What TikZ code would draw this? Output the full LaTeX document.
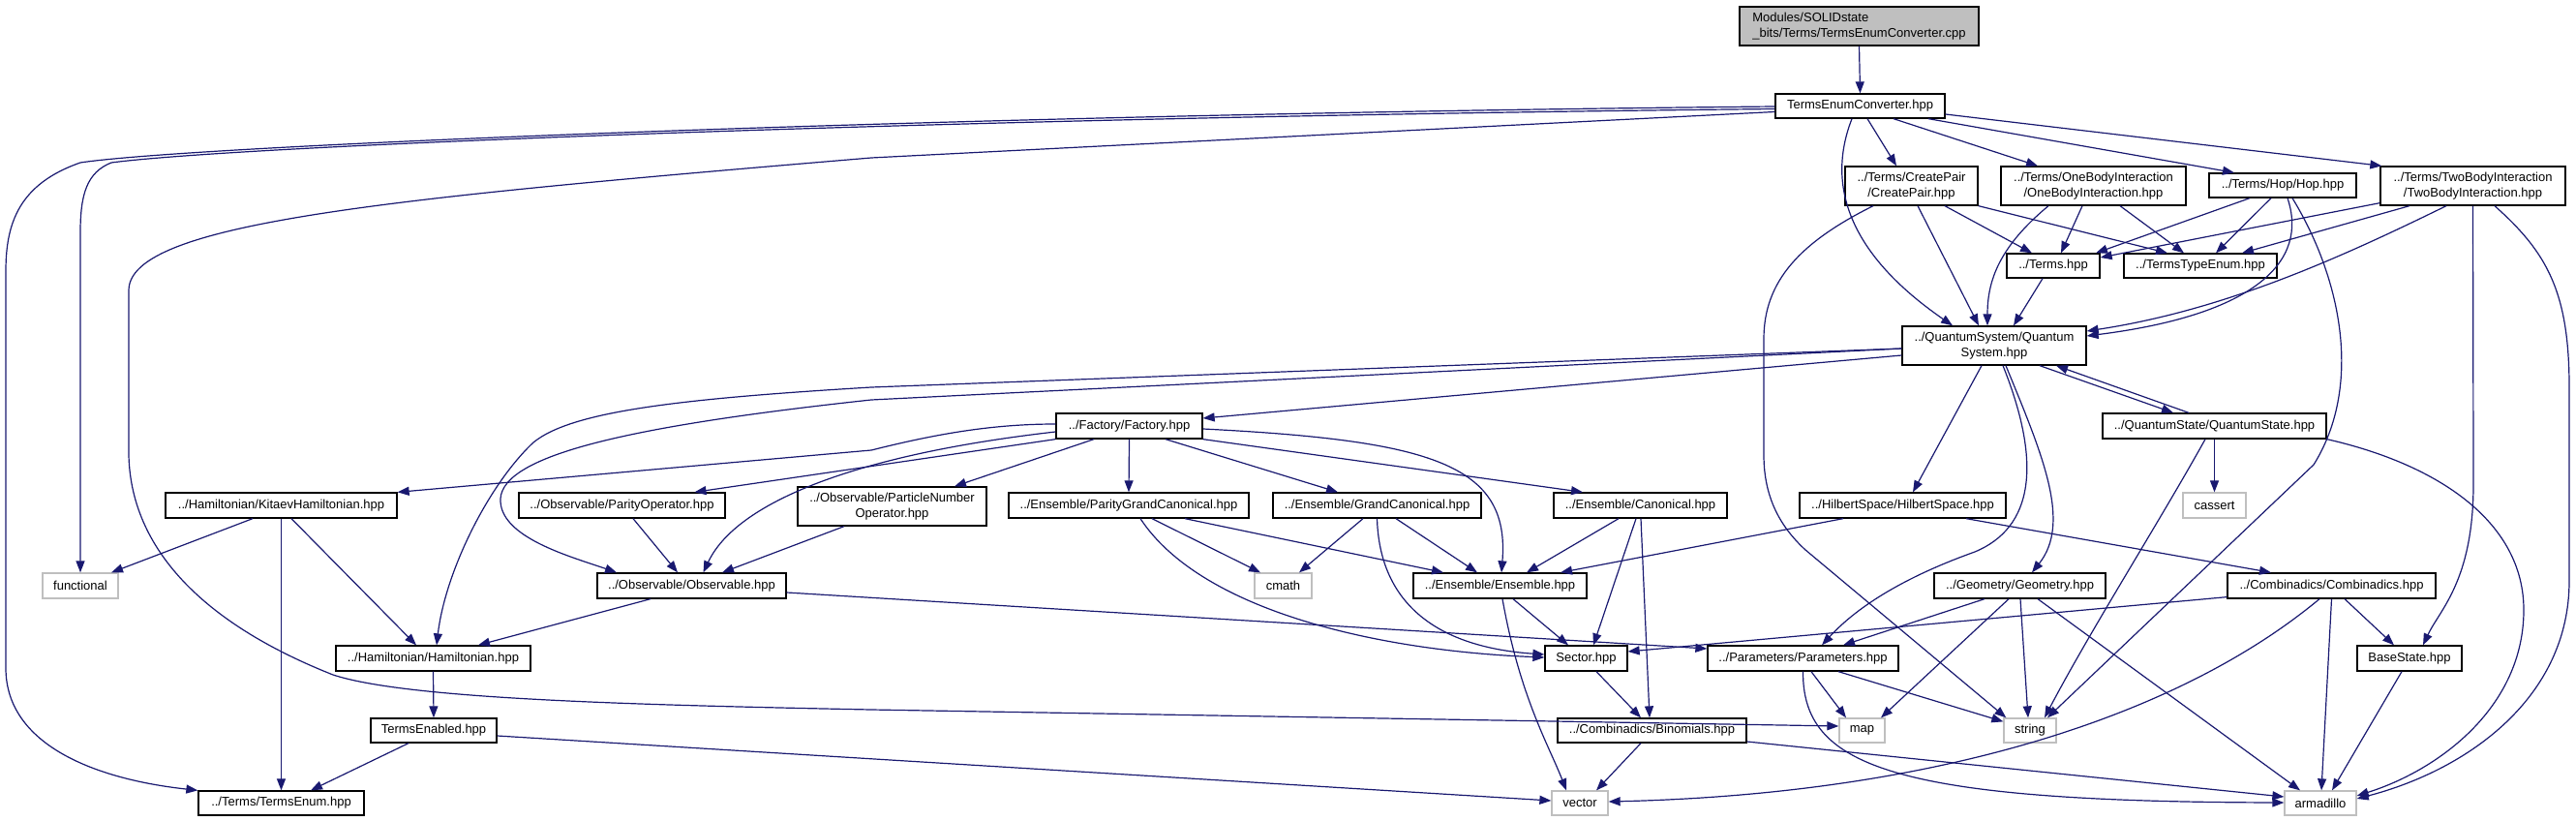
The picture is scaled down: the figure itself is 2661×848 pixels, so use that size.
\documentclass[tikz,border=0pt]{standalone}
\usepackage{fontspec}
\setmainfont{Liberation Sans}
\usetikzlibrary{arrows.meta}
\definecolor{edgec}{HTML}{191970}
\definecolor{grayb}{HTML}{BFBFBF}
\begin{document}
\begin{tikzpicture}[x=1pt,y=-1pt,
  nd/.style={draw=black,line width=1.3pt,fill=white,inner sep=0pt,font=\fontsize{13}{15.5}\selectfont,align=center},
  sys/.style={nd,draw=grayb},
  rootnd/.style={nd,fill=grayb,align=left},
  e/.style={draw=edgec,line width=1.2pt,-{Triangle[length=12pt,width=9pt]}}]
\useasboundingbox (0,0) rectangle (2661,848);
% nodes
\node[rootnd,minimum width=247pt,minimum height=40pt] (root) at (1920.5,27) {Modules/SOLIDstate\\\_bits/Terms/TermsEnumConverter.cpp};
\node[nd,minimum width=175pt,minimum height=25pt] (tec) at (1921.5,109.5) {TermsEnumConverter.hpp};
\node[nd,minimum width=137pt,minimum height=40pt] (cp) at (1974.5,192) {../Terms/CreatePair\\/CreatePair.hpp};
\node[nd,minimum width=191pt,minimum height=40pt] (ob) at (2162.5,192) {../Terms/OneBodyInteraction\\/OneBodyInteraction.hpp};
\node[nd,minimum width=152pt,minimum height=25pt] (hop) at (2358,191.5) {../Terms/Hop/Hop.hpp};
\node[nd,minimum width=191pt,minimum height=40pt] (tb) at (2554.5,192) {../Terms/TwoBodyInteraction\\/TwoBodyInteraction.hpp};
\node[nd,minimum width=96pt,minimum height=25pt] (terms) at (2121,274.5) {../Terms.hpp};
\node[nd,minimum width=158pt,minimum height=25pt] (tte) at (2273,274.5) {../TermsTypeEnum.hpp};
\node[nd,minimum width=190pt,minimum height=40pt] (qs) at (2060,357) {../QuantumSystem/Quantum\\System.hpp};
\node[nd,minimum width=231pt,minimum height=26pt] (qst) at (2287.5,440) {../QuantumState/QuantumState.hpp};
\node[nd,minimum width=213pt,minimum height=26pt] (hs) at (1965.5,522) {../HilbertSpace/HilbertSpace.hpp};
\node[sys,minimum width=65pt,minimum height=26pt] (cassert) at (2287.5,522) {cassert};
\node[nd,minimum width=239pt,minimum height=26pt] (kit) at (290.5,522) {../Hamiltonian/KitaevHamiltonian.hpp};
\node[nd,minimum width=213pt,minimum height=26pt] (po) at (642.5,522) {../Observable/ParityOperator.hpp};
\node[nd,minimum width=195pt,minimum height=40pt] (pno) at (921.5,523) {../Observable/ParticleNumber\\Operator.hpp};
\node[nd,minimum width=151pt,minimum height=26pt] (fac) at (1166.5,440) {../Factory/Factory.hpp};
\node[nd,minimum width=248pt,minimum height=26pt] (pgc) at (1166,522) {../Ensemble/ParityGrandCanonical.hpp};
\node[nd,minimum width=215pt,minimum height=26pt] (gc) at (1422.5,522) {../Ensemble/GrandCanonical.hpp};
\node[nd,minimum width=179pt,minimum height=26pt] (can) at (1694.5,522) {../Ensemble/Canonical.hpp};
\node[sys,minimum width=78pt,minimum height=26pt] (func) at (83,605) {functional};
\node[nd,minimum width=195pt,minimum height=26pt] (obs) at (714.5,605) {../Observable/Observable.hpp};
\node[nd,minimum width=201pt,minimum height=26pt] (ham) at (447.5,680) {../Hamiltonian/Hamiltonian.hpp};
\node[nd,minimum width=130pt,minimum height=25pt] (ten) at (448,754.5) {TermsEnabled.hpp};
\node[nd,minimum width=171pt,minimum height=25pt] (te) at (290.5,829.5) {../Terms/TermsEnum.hpp};
\node[sys,minimum width=59pt,minimum height=26pt] (cmath) at (1325.5,605) {cmath};
\node[nd,minimum width=179pt,minimum height=26pt] (ens) at (1549.5,605) {../Ensemble/Ensemble.hpp};
\node[nd,minimum width=85pt,minimum height=26pt] (sec) at (1638.5,680) {Sector.hpp};
\node[nd,minimum width=197pt,minimum height=26pt] (par) at (1862.5,680) {../Parameters/Parameters.hpp};
\node[nd,minimum width=195pt,minimum height=25pt] (bin) at (1706.5,754.5) {../Combinadics/Binomials.hpp};
\node[sys,minimum width=58pt,minimum height=25pt] (vec) at (1632,829.5) {vector};
\node[nd,minimum width=177pt,minimum height=26pt] (geo) at (2086.5,605) {../Geometry/Geometry.hpp};
\node[nd,minimum width=215pt,minimum height=26pt] (comb) at (2408.5,605) {../Combinadics/Combinadics.hpp};
\node[nd,minimum width=108pt,minimum height=26pt] (bs) at (2489,680) {BaseState.hpp};
\node[sys,minimum width=47pt,minimum height=25pt] (map) at (1923.5,754.5) {map};
\node[sys,minimum width=54pt,minimum height=25pt] (string) at (2097,754.5) {string};
\node[sys,minimum width=74pt,minimum height=25pt] (arma) at (2397,829.5) {armadillo};
% edges
\draw[e] (root.south) -- (tec.north);
\draw[e] ([xshift=7.5pt]tec.south) -- ([xshift=-15.5pt]cp.north);
\draw[e] ([xshift=34.5pt]tec.south) -- ([xshift=-57.5pt]ob.north);
\draw[e] ([xshift=70.5pt]tec.south) -- ([xshift=-50pt]hop.north);
\draw[e] ([yshift=-8.5pt]tec.east) -- ([xshift=2pt]tb.north west);
\draw[e] ([xshift=-8.5pt]tec.south) .. controls (1875,220) and (1950,290) .. ([xshift=-43pt]qs.north);
\draw[e] ([yshift=-0.5pt]tec.west) .. controls (1000,118) and (200,150) .. (83,168) .. controls (20,190) and (6,230) .. (6,280) -- (6,690) .. controls (6,770) and (100,805) .. (te.north west);
\draw[e] ([yshift=-3pt]tec.west) .. controls (1000,121) and (250,150) .. (115,168) .. controls (90,178) and (83,200) .. (83,240) -- (func.north);
\draw[e] ([yshift=-6pt]tec.west) -- (900,163) .. controls (400,205) and (133,230) .. (133,300) -- (133,470) .. controls (135,560) and (200,640) .. (344,697) .. controls (420,722) and (650,728) .. (900,733) -- ([yshift=4.5pt]map.west);
% CreatePair
\draw[e] ([xshift=-39.5pt]cp.south) .. controls (1860,250) and (1822,290) .. (1822,350) -- (1822,470) .. controls (1822,515) and (1840,545) .. (1865,568) -- ([xshift=3pt]string.north west);
\draw[e] ([xshift=6.5pt]cp.south) -- ([xshift=-16pt]qs.north);
\draw[e] ([xshift=34.5pt]cp.south) -- ([xshift=-22pt]terms.north);
\draw[e] (cp.south east) -- ([xshift=-34pt]tte.north);
% OneBody
\draw[e] ([xshift=-11.5pt]ob.south) -- ([xshift=8pt]terms.north);
\draw[e] ([xshift=27.5pt]ob.south) -- ([xshift=-17pt]tte.north);
\draw[e] ([xshift=-46.5pt]ob.south) .. controls (2065,255) and (2053,290) .. ([xshift=-7pt]qs.north);
% Hop
\draw[e] ([xshift=-34pt]hop.south) -- ([xshift=44pt]terms.north);
\draw[e] ([xshift=-12pt]hop.south) -- ([xshift=16pt]tte.north);
\draw[e] ([xshift=5pt]hop.south) .. controls (2385,270) and (2330,325) .. ([yshift=10pt]qs.east);
\draw[e] ([xshift=10pt]hop.south) .. controls (2420,290) and (2440,400) .. (2390,480) -- ([xshift=18pt]string.north);
% TwoBody
\draw[e] ([xshift=-27.5pt]tb.south) .. controls (2420,265) and (2300,320) .. ([yshift=15pt]qs.east);
\draw[e] ([yshift=3pt]tb.south west) -- ([yshift=8.5pt]terms.east);
\draw[e] ([xshift=-65.5pt]tb.south) -- ([xshift=43pt]tte.north);
\draw[e] (tb.south) -- (2555,500) .. controls (2555,600) and (2520,630) .. ([xshift=14pt]bs.north);
\draw[e] ([xshift=22.5pt]tb.south) .. controls (2630,260) and (2654,300) .. (2654,400) -- (2654,600) .. controls (2654,720) and (2550,795) .. ([yshift=4.5pt]arma.east);
% Terms
\draw[e] ([xshift=-11pt]terms.south) -- ([xshift=20pt]qs.north);
% QuantumSystem
\draw[e] ([yshift=-10pt]qs.west) -- ([yshift=8pt]fac.east);
\draw[e] ([yshift=-3pt]qs.west) -- (900,400) .. controls (700,412) and (590,425) .. (551,457) .. controls (505,500) and (460,590) .. ([xshift=3.5pt]ham.north);
\draw[e] ([yshift=-3pt]qs.west) -- (900,413) .. controls (650,440) and (520,470) .. (517,515) .. controls (515,555) and (590,575) .. ([xshift=-77.5pt]obs.north);
\draw[e] ([xshift=-13pt]qs.south) -- ([xshift=10.5pt]hs.north);
\draw[e] ([xshift=47pt]qs.south) -- ([xshift=-42.5pt]qst.north);
\draw[e] ([xshift=-26.5pt]qst.north) -- ([xshift=64pt]qs.south);
\draw[e] ([xshift=12pt]qs.south) .. controls (2110,470) and (2140,540) .. ([xshift=12.5pt]geo.north);
\draw[e] ([xshift=9pt]qs.south) .. controls (2110,480) and (2100,545) .. (2040,570) .. controls (1970,595) and (1920,625) .. ([xshift=19.5pt]par.north);
% QuantumState
\draw[e] (qst.south) -- (cassert.north);
\draw[e] ([xshift=-9.5pt]qst.south) .. controls (2230,540) and (2160,650) .. ([xshift=15pt]string.north);
\draw[e] (qst.south east) .. controls (2520,480) and (2607,540) .. (2607,630) .. controls (2607,730) and (2520,795) .. ([yshift=7.5pt]arma.east);
% HilbertSpace
\draw[e] ([xshift=-61.5pt]hs.south) -- ([xshift=62.5pt]ens.north);
\draw[e] ([xshift=65.5pt]hs.south) -- ([xshift=-62.5pt]comb.north);
% Factory
\draw[e] ([yshift=2pt]fac.west) .. controls (1020,438) and (960,450) .. (900,465) -- (kit.north east);
\draw[e] (fac.south west) -- ([xshift=75pt]po.north);
\draw[e] ([yshift=-6pt]fac.west) .. controls (880,470) and (760,520) .. ([xshift=12pt]obs.north);
\draw[e] ([xshift=-36.5pt]fac.south) -- ([xshift=64.5pt]pno.north);
\draw[e] (fac.south) -- (pgc.north);
\draw[e] ([xshift=37.5pt]fac.south) -- ([xshift=-40.5pt]gc.north);
\draw[e] (fac.south east) -- ([xshift=-59.5pt]can.north);
\draw[e] ([yshift=-3pt]fac.east) .. controls (1480,455) and (1560,480) .. ([xshift=1.5pt]ens.north);
% Kitaev
\draw[e] ([xshift=-29.5pt]kit.south) -- ([xshift=32pt]func.north);
\draw[e] (kit.south) -- (te.north);
\draw[e] ([xshift=10.5pt]kit.south) -- ([xshift=-17.5pt]ham.north);
% Operators
\draw[e] ([xshift=11.5pt]po.south) -- ([xshift=-14.5pt]obs.north);
\draw[e] ([xshift=-49.5pt]pno.south) -- ([xshift=31.5pt]obs.north);
% Observable
\draw[e] ([xshift=-42.5pt]obs.south) -- ([xshift=46.5pt]ham.north);
\draw[e] ([yshift=-7pt]obs.east) -- ([yshift=10pt]par.west);
% Hamiltonian, TermsEnabled
\draw[e] (ham.south) -- (ten.north);
\draw[e] ([xshift=-26pt]ten.south) -- ([xshift=30.5pt]te.north);
\draw[e] ([yshift=-5.5pt]ten.east) -- ([yshift=2.5pt]vec.west);
% ParityGrandCanonical
\draw[e] ([xshift=24pt]pgc.south) -- ([xshift=-23.5pt]cmath.north);
\draw[e] ([xshift=58pt]pgc.south) -- ([xshift=-58.5pt]ens.north);
\draw[e] ([xshift=12pt]pgc.south) .. controls (1240,630) and (1420,672) .. ([yshift=1pt]sec.west);
% GrandCanonical
\draw[e] ([xshift=-14.5pt]gc.south) -- ([xshift=16.5pt]cmath.north);
\draw[e] (gc.south) .. controls (1425,620) and (1480,668) .. ([yshift=4pt]sec.west);
\draw[e] ([xshift=19.5pt]gc.south) -- ([xshift=-23.5pt]ens.north);
% Canonical
\draw[e] ([xshift=-22.5pt]can.south) -- ([xshift=27.5pt]ens.north);
\draw[e] ([xshift=-4.5pt]can.south) -- ([xshift=7.5pt]sec.north);
\draw[e] ([xshift=0.5pt]can.south) -- ([xshift=-2.5pt]bin.north);
% Ensemble
\draw[e] ([xshift=13.5pt]ens.south) -- ([xshift=-18.5pt]sec.north);
\draw[e] ([xshift=2.5pt]ens.south) .. controls (1570,720) and (1600,770) .. ([xshift=-14pt]vec.north);
% Sector, Binomials
\draw[e] ([xshift=10.5pt]sec.south) -- ([xshift=-11.5pt]bin.north);
\draw[e] ([xshift=-11.5pt]bin.south) -- ([xshift=17pt]vec.north);
\draw[e] ([yshift=-11.5pt]bin.east) -- ([yshift=6.5pt]arma.west);
% Combinadics
\draw[e] ([xshift=-12.5pt]comb.south) .. controls (2250,740) and (2000,820) .. ([yshift=1.5pt]vec.east);
\draw[e] ([yshift=2pt]comb.south west) -- ([yshift=7pt]sec.east);
\draw[e] (comb.south) -- ([xshift=1pt]arma.north);
\draw[e] ([xshift=13.5pt]comb.south) -- ([xshift=-16pt]bs.north);
% Geometry
\draw[e] ([xshift=-36.5pt]geo.south) -- ([xshift=41.5pt]par.north);
\draw[e] ([xshift=-11.5pt]geo.south) -- ([xshift=19.5pt]map.north);
\draw[e] ([xshift=0.5pt]geo.south) -- ([xshift=-2pt]string.north);
\draw[e] ([xshift=18.5pt]geo.south) -- ([xshift=-21pt]arma.north);
% Parameters
\draw[e] ([xshift=8.5pt]par.south) -- ([xshift=-16.5pt]map.north);
\draw[e] ([xshift=36.5pt]par.south) -- ([yshift=-4pt]string.north west);
\draw[e] (par.south) .. controls (1862,790) and (1950,828) .. ([yshift=0.5pt]arma.west);
% BaseState
\draw[e] ([xshift=-8pt]bs.south) -- ([xshift=12pt]arma.north);
\end{tikzpicture}
\end{document}
